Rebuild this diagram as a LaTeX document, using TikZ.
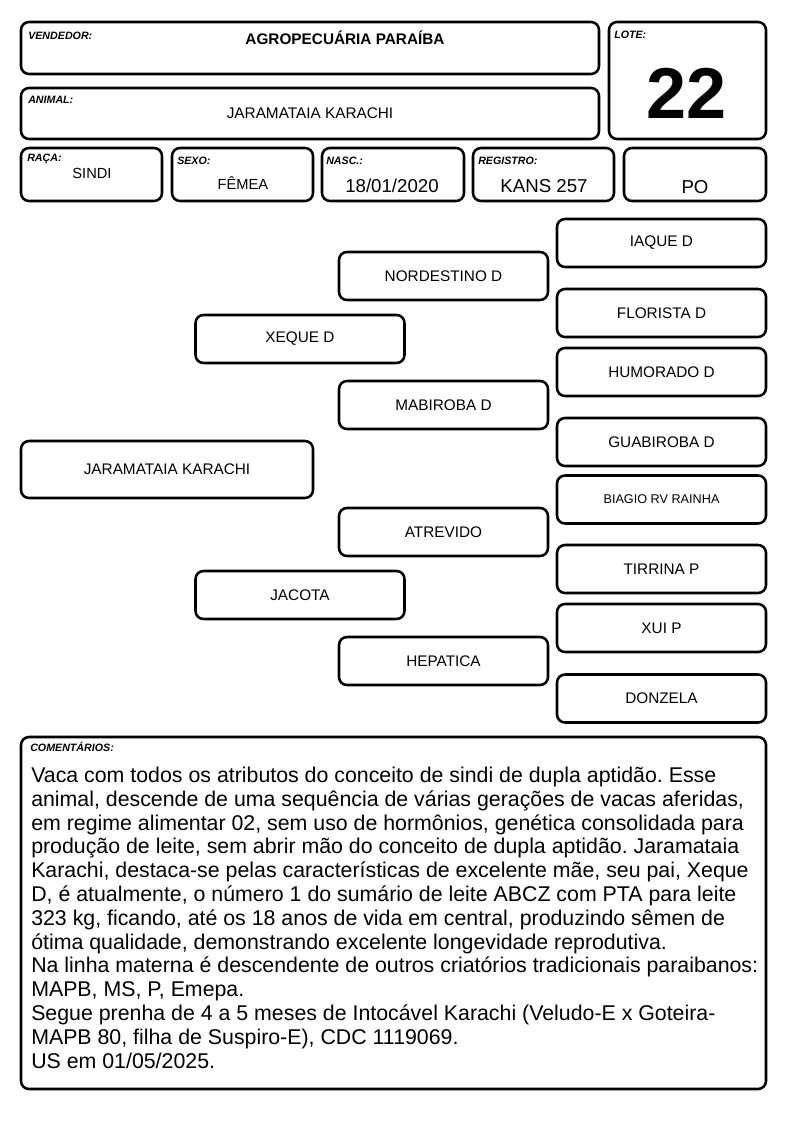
\documentclass[tikz,border=0pt]{standalone}
\usepackage{fontspec}
\setmainfont{Liberation Sans}
\frenchspacing

\begin{document}
\begin{tikzpicture}[x = 0.75pt, y = -0.75pt,
	box/.style = {draw, line width = 1.9pt, rounded corners = 6pt},
	tag/.style = {anchor = west, inner sep = 0pt, font = \fontsize{8}{9}\selectfont\bfseries\itshape},
	val/.style = {inner sep = 0pt, font = \fontsize{11}{13}\selectfont},
	big/.style = {inner sep = 0pt, font = \fontsize{14}{16}\selectfont},
	pedbox/.style = {box, minimum width = 156.75pt, minimum height = 36pt, inner sep = 0pt, font = \fontsize{11.5}{13}\selectfont},
	comtext/.style = {anchor = base west, inner sep = 0pt, font = \fontsize{16}{19}\selectfont}]

	\useasboundingbox (0, 0) rectangle (794, 1123);

	% Header boxes

	\draw [box] (21, 22) rectangle (599, 74);
	\draw [box] (609, 22) rectangle (766, 139);
	\draw [box] (21, 88) rectangle (599, 139);

	\foreach \xa/\xb in {21/162, 172/313, 322/464, 473/614, 624/766}
		\draw [box] (\xa, 148) rectangle (\xb, 201);

	\draw [box] (21, 737) rectangle (766, 1089);

	% Header labels

	\foreach \x/\y/\s/\n in {28/36/VENDEDOR:/tvend, 614/35/LOTE:/tlote, 28/100/ANIMAL:/tanim,
		27/159/RAÇA:/traca, 177/161/SEXO:/tsexo, 326/161/NASC.:/tnasc, 478/161/REGISTRO:/treg,
		30/747/COMENTÁRIOS:/tcom}
		\node [tag] (\n) at (\x, \y) {\s};

	% Header values

	\node [val, font = \fontsize{11.5}{13}\selectfont\bfseries] (vendedor) at (345, 38) {AGROPECUÁRIA PARAÍBA};
	\node [inner sep = 0pt, font = \fontsize{54}{60}\selectfont\bfseries] (lote) at (687, 93) {22};
	\node [val, font = \fontsize{11.5}{13}\selectfont] (animal) at (310, 113) {JARAMATAIA KARACHI};
	\node [val] (raca) at (92, 173) {SINDI};
	\node [val] (sexo) at (243, 183) {FÊMEA};
	\node [big] (nasc) at (392, 186) {18/01/2020};
	\node [big] (registro) at (544, 186) {KANS 257};
	\node [big] (po) at (695, 187) {PO};

	% Pedigree: animal, parents, grandparents

	\node [pedbox, minimum width = 219pt, minimum height = 42.75pt] (proband) at (167, 469.5) {JARAMATAIA KARACHI};

	\foreach \y/\s/\n in {339/XEQUE D/pai, 595/JACOTA/mae}
		\node [pedbox] (\n) at (300, \y) {\s};

	\foreach \y/\s/\n in {276/NORDESTINO D/avopp, 405/MABIROBA D/avopm, 532/ATREVIDO/avomp, 661/HEPATICA/avomm}
		\node [pedbox] (\n) at (443.5, \y) {\s};

	% Pedigree: great-grandparents

	\foreach \y/\s/\n in {243/IAQUE D/bis1, 313/FLORISTA D/bis2, 372/HUMORADO D/bis3, 442/GUABIROBA D/bis4,
		569/TIRRINA P/bis6, 628/XUI P/bis7, 698.5/DONZELA/bis8}
		\node [pedbox] (\n) at (661.5, \y) {\s};

	\node [pedbox, font = \fontsize{9.5}{11}\selectfont] (bis5) at (661.5, 499.5) {BIAGIO RV RAINHA};

	% Comments

	\foreach \s [count = \i] in {
		{Vaca com todos os atributos do conceito de sindi de dupla aptidão. Esse},
		{animal, descende de uma sequência de várias gerações de vacas aferidas,},
		{em regime alimentar 02, sem uso de hormônios, genética consolidada para},
		{produção de leite, sem abrir mão do conceito de dupla aptidão. Jaramataia},
		{Karachi, destaca-se pelas características de excelente mãe, seu pai, Xeque},
		{D, é atualmente, o número 1 do sumário de leite ABCZ com PTA para leite},
		{323 kg, ficando, até os 18 anos de vida em central, produzindo sêmen de},
		{ótima qualidade, demonstrando excelente longevidade reprodutiva.},
		{Na linha materna é descendente de outros criatórios tradicionais paraibanos:},
		{MAPB, MS, P, Emepa.},
		{Segue prenha de 4 a 5 meses de Intocável Karachi (Veludo-E x Goteira-},
		{MAPB 80, filha de Suspiro-E), CDC 1119069.},
		{US em 01/05/2025.}}
		\node [comtext] (linha\i) at (31, 758.7 + 23.8 * \i) {\s};

\end{tikzpicture}
\end{document}
